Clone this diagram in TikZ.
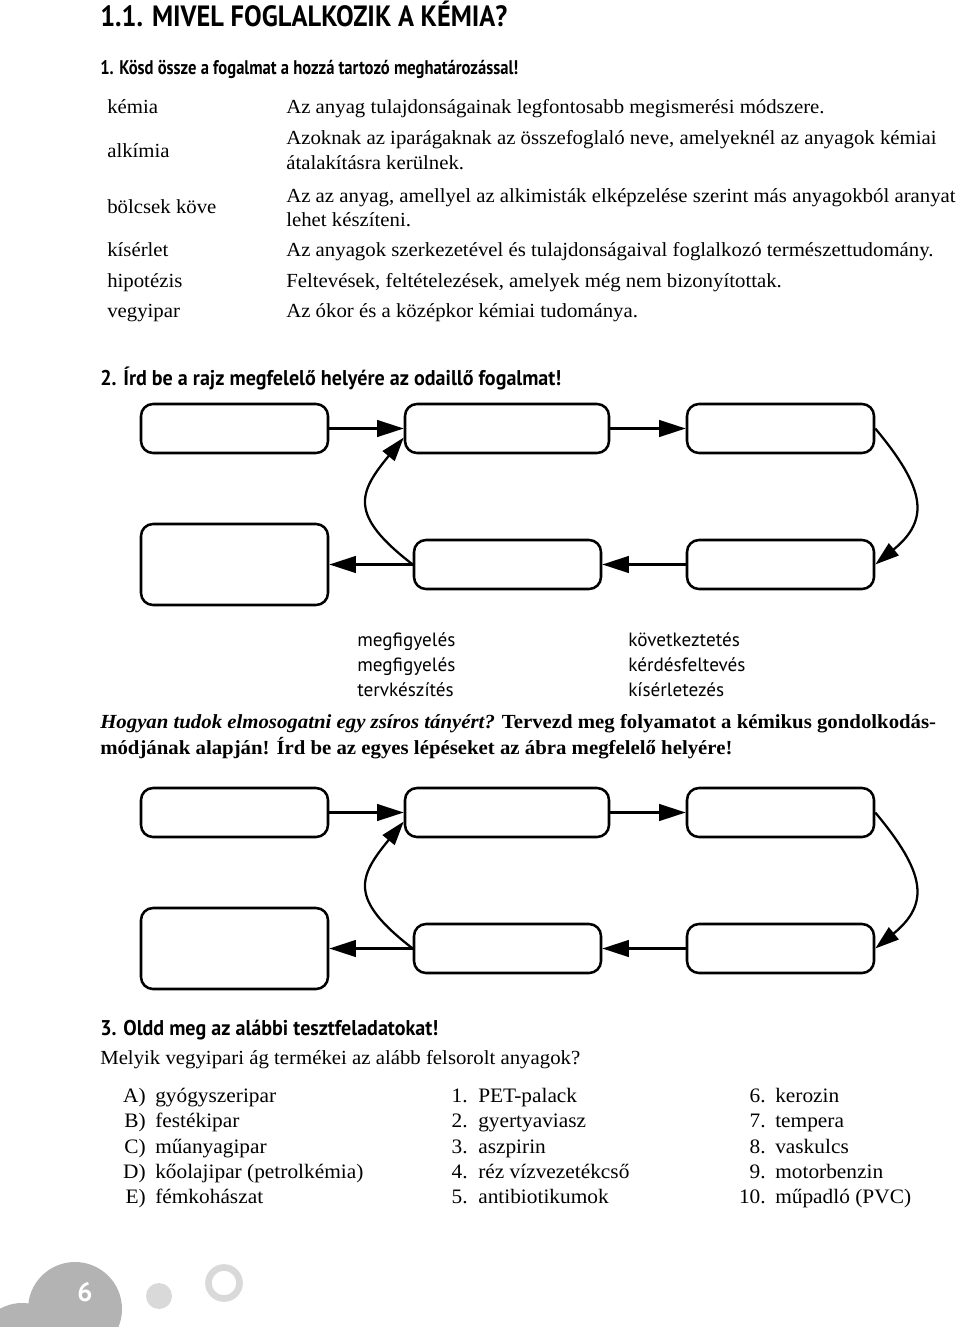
\documentclass[tikz,border=0pt]{standalone}
\usepackage{fontspec}
\setmainfont[FakeStretch=1.04]{Liberation Serif}
\newfontfamily\hd[FakeStretch=0.84]{PT Sans}
\newfontfamily\hdb[FakeStretch=0.94]{PT Sans}
\newfontfamily\hdt[FakeStretch=0.9]{PT Sans}
\newfontfamily\ws{PT Sans}
\usetikzlibrary{arrows.meta}
\definecolor{blobgray}{HTML}{B3B3B3}
\definecolor{lightgray2}{HTML}{D9D9D9}
\tikzset{
  box/.style={draw, line width=1.9pt, rounded corners=9pt, inner sep=0pt,
    minimum height=36.75pt, minimum width=140.25pt},
  arr/.style={line width=1.7pt, -{Triangle[length=20pt,width=12.5pt]}},
  carr/.style={line width=1.7pt, -{Triangle[length=18pt,width=11.5pt]}},
  txt/.style={inner sep=0pt, anchor=base west},
  rtxt/.style={inner sep=0pt, anchor=base east},
  title/.style={txt, font=\hdt\bfseries\fontsize{22pt}{26pt}\selectfont},
  head/.style={txt, font=\hd\bfseries\fontsize{14.8pt}{18pt}\selectfont},
  headb/.style={txt, font=\hdb\bfseries\fontsize{16pt}{19pt}\selectfont},
  body/.style={txt, font=\fontsize{15pt}{18pt}\selectfont},
  word/.style={txt, font=\ws\fontsize{14.4pt}{17pt}\selectfont},
  lst/.style={txt, font=\fontsize{15.4pt}{18pt}\selectfont},
  rlst/.style={rtxt, font=\fontsize{15.4pt}{18pt}\selectfont},
}
\begin{document}
\begin{tikzpicture}[x=0.75pt,y=-0.75pt]
\useasboundingbox (0,0) rectangle (960,1327);
\fill[white] (0,0) rectangle (960,1327);

% headings
\node[title] (t0) at (100,27) {1.1. MIVEL FOGLALKOZIK A KÉMIA?};
\node[head] (h1) at (100,75) {1. Kösd össze a fogalmat a hozzá tartozó meghatározással!};

% left column
\node[body] (l1) at (107,114) {kémia};
\node[body] (l2) at (107,158) {alkímia};
\node[body] (l3) at (107,214) {bölcsek köve};
\node[body] (l4) at (107,256) {kísérlet};
\node[body] (l5) at (107,287) {hipotézis};
\node[body] (l6) at (107,317) {vegyipar};

% right column
\node[body] (r1) at (286,114) {Az anyag tulajdonságainak legfontosabb megismerési módszere.};
\node[body] (r2) at (286,145) {Azoknak az iparágaknak az összefoglaló neve, amelyeknél az anyagok kémiai};
\node[body] (r3) at (286,170) {átalakításra kerülnek.};
\node[body] (r4) at (286,202) {Az az anyag, amellyel az alkimisták elképzelése szerint más anyagokból aranyat};
\node[body] (r5) at (286,226) {lehet készíteni.};
\node[body] (r6) at (286,256) {Az anyagok szerkezetével és tulajdonságaival foglalkozó természettudomány.};
\node[body] (r7) at (286,287) {Feltevések, feltételezések, amelyek még nem bizonyítottak.};
\node[body] (r8) at (286,317) {Az ókor és a középkor kémiai tudománya.};

\node[headb] (h2) at (100,385) {2. Írd be a rajz megfelelő helyére az odaillő fogalmat!};

% two flow diagrams
\foreach \o/\s in {0/a,384/b}{
  \node[box] (A\s) at (234.5,428.5+\o) {};
  \node[box, minimum width=153pt] (B\s) at (507,428.5+\o) {};
  \node[box] (C\s) at (780.5,428.5+\o) {};
  \node[box, minimum height=60.75pt] (D\s) at (234.5,564.5+\o) {};
  \node[box] (E\s) at (507.5,564.5+\o) {};
  \node[box] (F\s) at (780.5,564.5+\o) {};
  \draw[arr] (A\s.east) -- (B\s.west);
  \draw[arr] (B\s.east) -- (C\s.west);
  \draw[carr] (C\s.east) .. controls +(50,60) and +(55,-45) .. (F\s.east);
  \draw[arr] (F\s.west) -- (E\s.east);
  \draw[arr] (E\s.west) -- (D\s.east);
  \draw[carr] (E\s.west) .. controls +(-65,-50) and +(-45,55) .. (B\s.185);
}

% word list
\node[word] (w1) at (357,646) {megfigyelés};
\node[word] (w2) at (357,671) {megfigyelés};
\node[word] (w3) at (357,696) {tervkészítés};
\node[word] (w4) at (628,646) {következtetés};
\node[word] (w5) at (628,671) {kérdésfeltevés};
\node[word] (w6) at (628,696) {kísérletezés};

% bold paragraph
\node[body, font=\bfseries\fontsize{15pt}{18pt}\selectfont] (p1) at (100,728)
  {\textit{Hogyan tudok elmosogatni egy zsíros tányért?} Tervezd meg folyamatot a kémikus gondolkodás-};
\node[body, font=\bfseries\fontsize{15pt}{18pt}\selectfont] (p2) at (100,754)
  {módjának alapján! Írd be az egyes lépéseket az ábra megfelelő helyére!};

% section 3
\node[headb] (h3) at (100,1035) {3. Oldd meg az alábbi tesztfeladatokat!};
\node[body] (q3) at (100,1064) {Melyik vegyipari ág termékei az alább felsorolt anyagok?};

\foreach \i/\y/\lab/\t in {1/1102/A)/gyógyszeripar, 2/1127/B)/festékipar, 3/1153/C)/műanyagipar, 4/1178/D)/kőolajipar (petrolkémia), 5/1203/E)/fémkohászat}{
  \node[rlst] (la\i) at (146,\y) {\lab};
  \node[lst] (lt\i) at (155,\y) {\t};
}
\foreach \i/\y/\t in {1/1102/PET-palack, 2/1127/gyertyaviasz, 3/1153/aszpirin, 4/1178/réz vízvezetékcső, 5/1203/antibiotikumok}{
  \node[rlst] (na\i) at (468,\y) {\i.};
  \node[lst] (nt\i) at (478,\y) {\t};
}
\foreach \i/\n/\y/\t in {6/6/1102/kerozin, 7/7/1127/tempera, 8/8/1153/vaskulcs, 9/9/1178/motorbenzin, 10/10/1203/műpadló (PVC)}{
  \node[rlst] (nb\i) at (766,\y) {\n.};
  \node[lst] (ntb\i) at (775,\y) {\t};
}

% page number decoration
\begin{scope}
  \clip (0,0) rectangle (960,1327);
  \fill[blobgray] (75,1309) circle[radius=47];
  \fill[blobgray] (22,1348) circle[radius=45];
  \fill[lightgray2] (159,1296) circle[radius=13];
  \draw[lightgray2, line width=5pt] (224,1283) circle[radius=15.5];
\end{scope}
\node[inner sep=0pt, text=white, font=\ws\bfseries\fontsize{20pt}{24pt}\selectfont] (pg) at (85,1292) {6};
\end{tikzpicture}
\end{document}
